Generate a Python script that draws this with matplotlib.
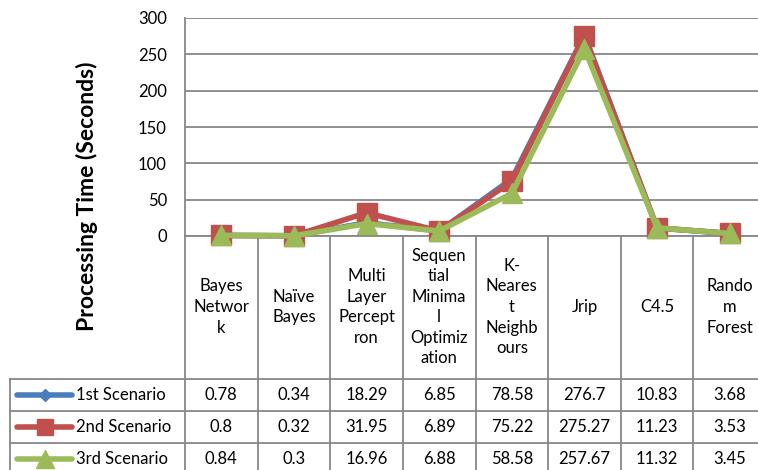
import matplotlib
matplotlib.use("Agg")
import matplotlib.pyplot as plt
import matplotlib.transforms as mtransforms
from matplotlib.lines import Line2D

# ---- data ----
categories = ["Bayes\nNetwor\nk", "Naïve\nBayes", "Multi\nLayer\nPercept\nron",
              "Sequen\ntial\nMinima\nl\nOptimiz\nation", "K-\nNeares\nt\nNeighb\nours",
              "Jrip", "C4.5", "Rando\nm\nForest"]
series_names = ["1st Scenario", "2nd Scenario", "3rd Scenario"]
scenario1 = [0.78, 0.34, 18.29, 6.85, 78.58, 276.7, 10.83, 3.68]
scenario2 = [0.8, 0.32, 31.95, 6.89, 75.22, 275.27, 11.23, 3.53]
scenario3 = [0.84, 0.3, 16.96, 6.88, 58.58, 257.67, 11.32, 3.45]
yticks = [0, 50, 100, 150, 200, 250, 300]

colors = ["#4A7EBB", "#C0504D", "#9BBB59"]
markers = ["D", "s", "^"]
msizes = [7, 14, 15]
key_msizes = [6, 12, 13]
grid_col = "#878787"

plt.rcParams["font.family"] = ["Lato", "DejaVu Sans"]

W, H = 758, 470
fig = plt.figure(figsize=(W / 100, H / 100), dpi=100)


def fx(x):
    return x / W


def fy(y):
    return 1 - y / H


# plot area (extends a little past the right edge of the canvas)
left_px, right_px, top_px, bot_px = 185, 766, 18, 236
ax = fig.add_axes([fx(left_px), fy(bot_px), fx(right_px - left_px), (bot_px - top_px) / H])
n = len(categories)
xs = list(range(n))
ax.set_xlim(-0.5, n - 0.5)
ax.set_ylim(0, 300)
ax.set_yticks(yticks)
ax.set_yticklabels([str(t) for t in yticks], fontsize=12)
ax.tick_params(axis="y", length=0, pad=13)
ax.set_xticks([])
for s in ["top", "right"]:
    ax.spines[s].set_visible(False)
for s in ["left", "bottom"]:
    ax.spines[s].set_color(grid_col)
    ax.spines[s].set_linewidth(1.3)
ax.yaxis.grid(True, color=grid_col, linewidth=1.3)
ax.set_axisbelow(True)

all_series = [scenario1, scenario2, scenario3]
for vals, c, m, ms in zip(all_series, colors, markers, msizes):
    ax.plot(xs, vals, color=c, linewidth=4, marker=m, markersize=ms,
            markerfacecolor=c, markeredgecolor=c, clip_on=False, zorder=3)

ax.set_ylabel("Processing Time (Seconds)", fontsize=16.5, fontweight="bold")
ax.yaxis.set_label_coords(fx(98), fy(196), transform=fig.transFigure)

# ---- data table below the plot ----
blend = mtransforms.blended_transform_factory(ax.transData, fig.transFigure)
row_tops = [379, 411, 443]
row_h = 32
table_bottom = 475

# vertical separators between categories
for k in range(0, n + 1):
    ax.add_line(Line2D([k - 0.5, k - 0.5], [fy(bot_px), fy(table_bottom)], transform=blend,
                       color=grid_col, linewidth=1.3, clip_on=False))

# horizontal row lines and left border
for y in row_tops:
    fig.add_artist(Line2D([fx(10), fx(W + 10)], [fy(y), fy(y)], transform=fig.transFigure,
                          color=grid_col, linewidth=1.3))
fig.add_artist(Line2D([fx(10), fx(10)], [fy(row_tops[0]), fy(table_bottom)],
                      transform=fig.transFigure, color=grid_col, linewidth=1.3))

# category headers
for x, lab in zip(xs, categories):
    ax.text(x, fy(307), lab, transform=blend, ha="center", va="center",
            fontsize=12, linespacing=1.35, clip_on=False)

# rows: legend key, name and values
for r, (name, vals, c, m, ms) in enumerate(zip(series_names, all_series, colors, markers, key_msizes)):
    yc = row_tops[r] + row_h / 2
    fig.add_artist(Line2D([fx(17), fx(72)], [fy(yc), fy(yc)], transform=fig.transFigure,
                          color=c, linewidth=4, solid_capstyle="round"))
    fig.add_artist(Line2D([fx(44.5)], [fy(yc)], transform=fig.transFigure, color=c,
                          marker=m, markersize=ms, markerfacecolor=c, markeredgecolor=c))
    fig.text(fx(76), fy(yc), name, ha="left", va="center", fontsize=12)
    for x, v in zip(xs, vals):
        ax.text(x, fy(yc), f"{v:g}", transform=blend, ha="center", va="center",
                fontsize=12, clip_on=False)

fig.savefig("out.png", dpi=100)
